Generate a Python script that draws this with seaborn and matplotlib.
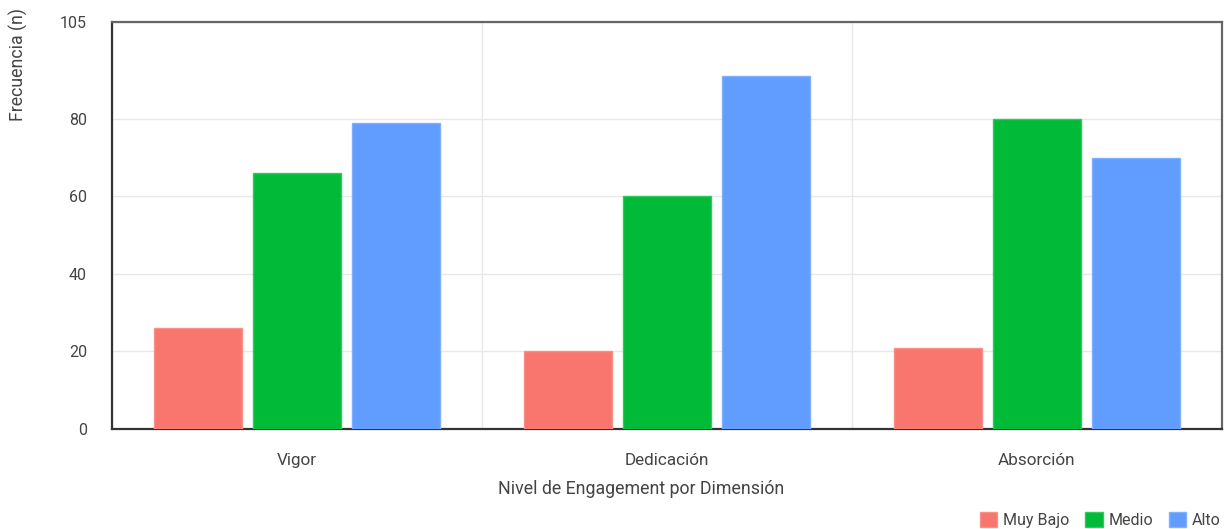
import pandas as pd
import numpy as np
import matplotlib.pyplot as plt
import seaborn as sns

# Data
dimensiones = ["Vigor", "Dedicación", "Absorción"]
niveles = ["Muy Bajo", "Medio", "Alto"]
muy_bajo = [26, 20, 21]
medio = [66, 60, 80]
alto = [79, 91, 70]
colores = ["#F8766D", "#00BA38", "#619CFF"]

df = pd.DataFrame({
    "Dimension": dimensiones * 3,
    "Nivel": [n for n in niveles for _ in dimensiones],
    "Frecuencia": muy_bajo + medio + alto,
})

sns.set_style("white")
plt.rcParams["font.family"] = ["Roboto", "DejaVu Sans"]
text_color = "#444444"

fig = plt.figure(figsize=(12.29, 5.29), dpi=100)
ax = fig.add_axes([112 / 1229, 1 - 429 / 529, 1110 / 1229, 407 / 529])

sns.barplot(data=df, x="Dimension", y="Frecuencia", hue="Nivel",
            order=dimensiones, hue_order=niveles, palette=colores,
            saturation=1, width=0.8, gap=0.11, linewidth=1,
            errorbar=None, ax=ax, legend=True, zorder=3)

# Bar outlines slightly lighter than the fill
for patch in ax.patches:
    fc = patch.get_facecolor()
    patch.set_edgecolor(tuple(min(1, c * 0.8 + 0.2) for c in fc[:3]) + (1,))

ax.set_ylim(0, 105)
ax.set_xlim(-0.5, 2.5)
ax.set_yticks([0, 20, 40, 60, 80, 105])
ax.tick_params(axis="y", length=14, color="#e6e6e6", labelsize=11.5, labelcolor=text_color, pad=4)
ax.tick_params(axis="x", which="major", length=0, labelsize=12.3, labelcolor=text_color, pad=17)

ax.set_xticks([-0.5, 0.5, 1.5, 2.5], minor=True)
ax.tick_params(axis="x", which="minor", length=12, color="#e6e6e6", width=1)

ax.grid(axis="y", color="#e8e8e8", linewidth=1, zorder=0)
ax.grid(axis="x", which="minor", color="#e8e8e8", linewidth=1, zorder=0)
ax.set_axisbelow(True)

for side in ["left", "bottom"]:
    ax.spines[side].set_color("#333333")
    ax.spines[side].set_linewidth(1.6)
for side in ["top", "right"]:
    ax.spines[side].set_color("#666666")
    ax.spines[side].set_linewidth(1.6)

ax.set_xlabel("Nivel de Engagement por Dimensión", fontsize=12.8, color=text_color)
ax.xaxis.set_label_coords(0.477, -0.125)
ax.set_ylabel("Frecuencia (n)", fontsize=12.8, color=text_color, loc="top")
ax.yaxis.set_label_coords(-0.076, 1.035)

handles, labels = ax.get_legend_handles_labels()
ax.get_legend().remove()
fig.legend(handles, labels, loc="lower right", bbox_to_anchor=(1.005, -0.025),
           ncol=3, frameon=False, fontsize=11.5, handlelength=1.1, handleheight=1.1,
           handletextpad=0.35, columnspacing=1.0, labelcolor=text_color)

fig.savefig("out.png", dpi=100)
